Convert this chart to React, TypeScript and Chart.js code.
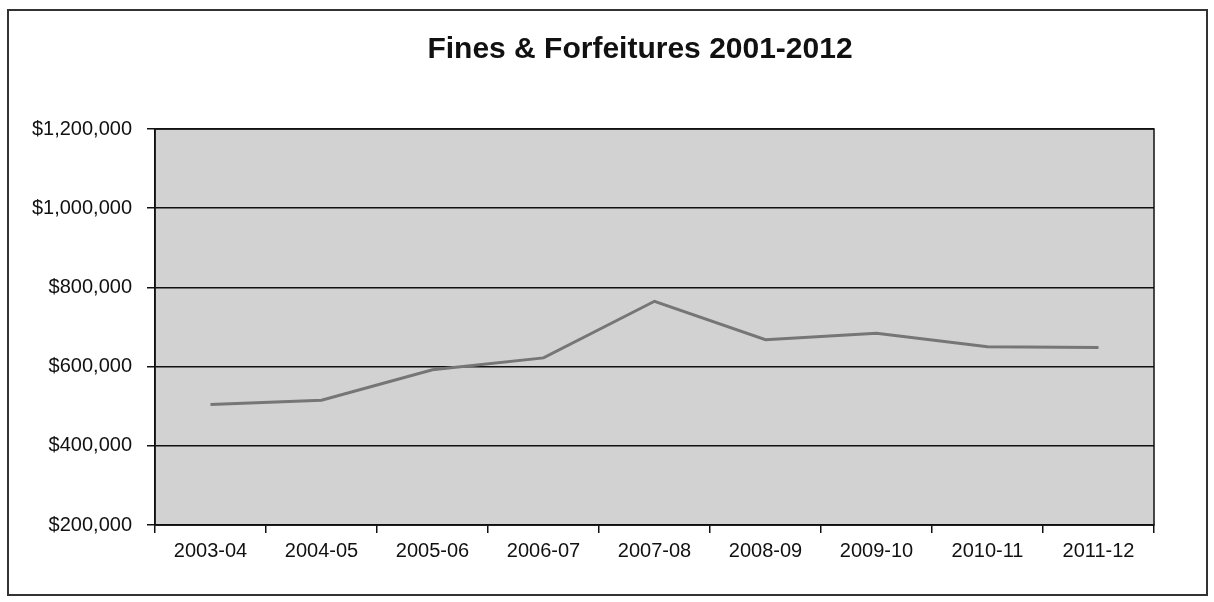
import React, { useEffect, useRef } from "react";
import { Chart, registerables } from "chart.js";

Chart.register(...registerables);

const categories = ["2003-04", "2004-05", "2005-06", "2006-07", "2007-08", "2008-09", "2009-10", "2010-11", "2011-12"];
const finesValues = [504000, 515000, 592000, 622000, 765000, 668000, 684000, 650000, 648000];
const chartTitle = "Fines & Forfeitures 2001-2012";

const frame = {
  id: "frame",
  beforeDraw(chart: any) {
    const { ctx, chartArea } = chart;
    ctx.save();
    ctx.fillStyle = "#ffffff";
    ctx.fillRect(0, 0, chart.width, chart.height);
    ctx.fillStyle = "#d2d2d2";
    ctx.fillRect(chartArea.left, chartArea.top, chartArea.right - chartArea.left, chartArea.bottom - chartArea.top);
    ctx.strokeStyle = "#333333";
    ctx.lineWidth = 2;
    ctx.strokeRect(8, 10, 1199, 585);
    ctx.restore();
  },
  afterDraw(chart: any) {
    const { ctx, chartArea } = chart;
    ctx.save();
    ctx.strokeStyle = "#111111";
    ctx.lineWidth = 1.5;
    ctx.strokeRect(chartArea.left, chartArea.top, chartArea.right - chartArea.left, chartArea.bottom - chartArea.top);
    ctx.restore();
  },
};

export default function App() {
  const ref = useRef<HTMLCanvasElement>(null);
  useEffect(() => {
    if (!ref.current) return;
    const chart = new Chart(ref.current, {
      type: "line",
      data: {
        labels: categories,
        datasets: [
          {
            label: "Fines & Forfeitures",
            data: finesValues,
            borderColor: "#767676",
            borderWidth: 3,
            pointRadius: 0,
            tension: 0,
            fill: false,
          },
        ],
      },
      options: {
        animation: false,
        responsive: false,
        layout: { padding: { left: 0, right: -66, top: 0, bottom: 0 } },
        plugins: {
          legend: { display: false },
          tooltip: { enabled: false },
          title: {
            display: true,
            text: chartTitle,
            color: "#111111",
            font: { family: "Liberation Sans, Arial, sans-serif", size: 30, weight: "bold" },
            padding: { top: 32, bottom: 61 },
          },
        },
        scales: {
          x: {
            offset: true,
            grid: { offset: true, drawOnChartArea: false, drawTicks: true, tickLength: 8, color: "#111111", lineWidth: 1.5 },
            border: { display: true, color: "#111111", width: 1.5 },
            ticks: { color: "#111111", padding: 6, font: { family: "Liberation Sans, Arial, sans-serif", size: 20 }, maxRotation: 0 },
            afterFit: (s: any) => { s.height = 77; },
          },
          y: {
            min: 200000,
            max: 1200000,
            grid: { color: "#111111", lineWidth: 1.5, tickLength: 8 },
            border: { display: true, color: "#111111", width: 1.5 },
            ticks: {
              stepSize: 200000,
              color: "#111111",
              padding: 15,
              font: { family: "Liberation Sans, Arial, sans-serif", size: 20 },
              callback: (v: any) => "$" + Number(v).toLocaleString("en-US"),
            },
            afterFit: (s: any) => { s.width = 155; },
          },
          spacer: {
            type: "linear",
            position: "right",
            display: true,
            grid: { display: false, drawTicks: false },
            border: { display: false },
            ticks: { display: false },
            afterFit: (s: any) => { s.width = 126; },
          },
        },
      },
      plugins: [frame],
    });
    return () => chart.destroy();
  }, []);
  return (
    <div style={{ position: "fixed", left: 0, top: 0, width: 1214, height: 602 }}>
      <canvas ref={ref} width={1214} height={602} style={{ width: 1214, height: 602 }} />
    </div>
  );
}
